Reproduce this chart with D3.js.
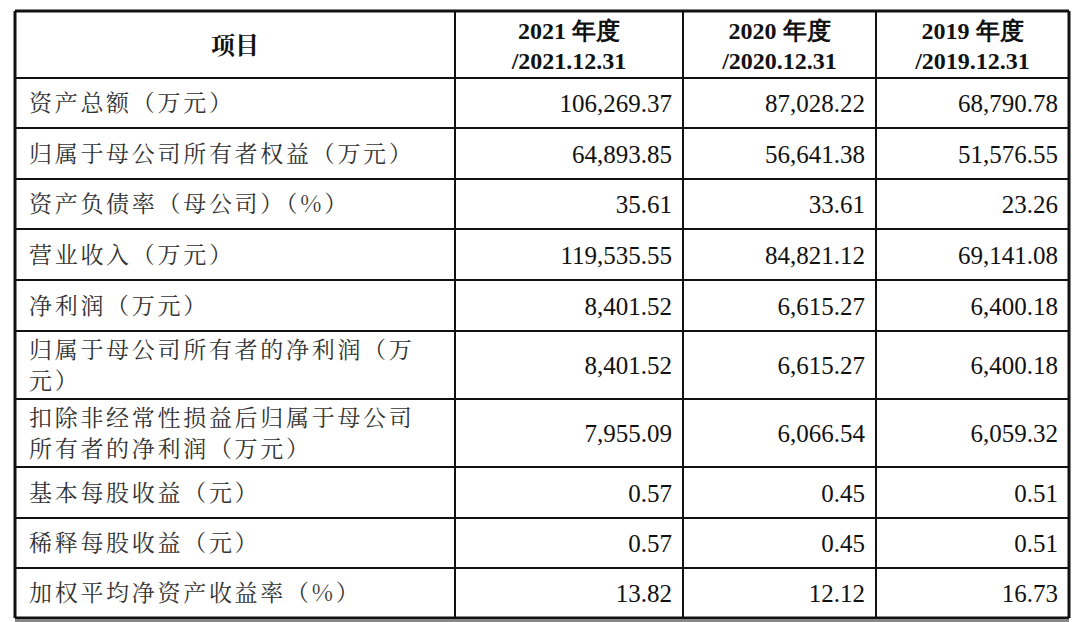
<!DOCTYPE html>
<html><head><meta charset="utf-8">
<script src="https://cdn.jsdelivr.net/npm/d3@7"></script>
<style>body{margin:0;background:#fff}</style></head>
<body><svg id="c" width="1080" height="622"></svg>
<script>
const headers = [["项目"],["2021 年度","/2021.12.31"],["2020 年度","/2020.12.31"],["2019 年度","/2019.12.31"]];
const items = [["资产总额（万元）"],["归属于母公司所有者权益（万元）"],["资产负债率（母公司）（%）"],["营业收入（万元）"],["净利润（万元）"],["归属于母公司所有者的净利润（万","元）"],["扣除非经常性损益后归属于母公司","所有者的净利润（万元）"],["基本每股收益（元）"],["稀释每股收益（元）"],["加权平均净资产收益率（%）"]];
const v2021 = ["106,269.37","64,893.85","35.61","119,535.55","8,401.52","8,401.52","7,955.09","0.57","0.57","13.82"];
const v2020 = ["87,028.22","56,641.38","33.61","84,821.12","6,615.27","6,615.27","6,066.54","0.45","0.45","12.12"];
const v2019 = ["68,790.78","51,576.55","23.26","69,141.08","6,400.18","6,400.18","6,059.32","0.51","0.51","16.73"];
const rowLines = [11,78,128,179,229,280,331,399,467,518,568,618];
const colLines = [15,455,683,876,1069];

const svg = d3.select("#c");
const cjk = "'Noto Serif CJK SC','Noto Sans CJK SC',serif";
const num = "'Liberation Serif','Times New Roman',serif";
headers.forEach((h,i)=>{
  const cx=(colLines[i]+colLines[i+1])/2, cy=(rowLines[0]+rowLines[1])/2;
  h.forEach((t,j)=>{
    svg.append("text").attr("x",cx).attr("y",cy+(j-(h.length-1)/2)*30+9)
      .attr("text-anchor","middle").attr("font-size",24).attr("font-weight","bold")
      .attr("font-family",i==0?cjk:num).attr("fill","#111").text(t);
  });
});
items.forEach((it,r)=>{
  const y0=rowLines[r+1], y1=rowLines[r+2], cy=(y0+y1)/2;
  it.forEach((t,j)=>{
    svg.append("text").attr("x",colLines[0]+14).attr("y",cy+(j-(it.length-1)/2)*31+8)
      .attr("font-size",23).attr("font-family",cjk).attr("fill","#333").attr("letter-spacing",2.7).text(t);
  });
  [v2021,v2020,v2019].forEach((s,c)=>{
    svg.append("text").attr("x",colLines[c+2]-11).attr("y",cy+9)
      .attr("text-anchor","end").attr("font-size",25).attr("font-family",num).attr("fill","#111").text(s[r]);
  });
});
rowLines.forEach((y,i)=>svg.append("line").attr("x1",colLines[0]).attr("x2",colLines[4]).attr("y1",y).attr("y2",y)
  .attr("stroke","#111").attr("stroke-width",(i==0||i==rowLines.length-1)?3:2));
svg.append("line").attr("x1",colLines[0]).attr("x2",colLines[4]).attr("y1",621).attr("y2",621).attr("stroke","#111").attr("stroke-width",1);
colLines.forEach((x,i)=>svg.append("line").attr("x1",x).attr("x2",x).attr("y1",rowLines[0]).attr("y2",rowLines[rowLines.length-1])
  .attr("stroke","#111").attr("stroke-width",(i==0||i==colLines.length-1)?3:2));
</script></body></html>
